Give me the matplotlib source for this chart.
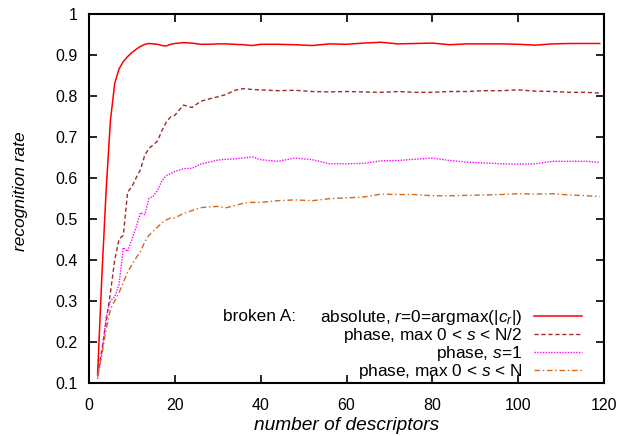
import numpy as np
import matplotlib
matplotlib.use('Agg')
import matplotlib.pyplot as plt
from matplotlib.ticker import FormatStrFormatter

plt.rcParams['font.family'] = ['Liberation Sans', 'DejaVu Sans']
plt.rcParams['font.size'] = 11.5
plt.rcParams['mathtext.fontset'] = 'custom'
plt.rcParams['mathtext.rm'] = 'Liberation Sans'
plt.rcParams['mathtext.it'] = 'Liberation Sans:italic'

# number of descriptors
n_desc = [2, 3, 4, 5, 6, 7, 8, 9, 10, 11, 12, 13, 14, 15, 16, 17, 18, 19, 20,
          22, 24, 26, 28, 30, 32, 34, 36, 38, 40,
          44, 48, 52, 56, 60, 64, 68, 72, 76, 80, 84, 88, 92, 96, 100, 104,
          108, 112, 116, 119]

# absolute, r=0=argmax(|c_r|)
absolute = [0.12, 0.36, 0.57, 0.74, 0.83, 0.865, 0.883, 0.895, 0.905, 0.913,
            0.92, 0.925, 0.927, 0.926, 0.925, 0.922, 0.921, 0.925, 0.927,
            0.929, 0.928, 0.925, 0.925, 0.926, 0.926, 0.925, 0.924, 0.922,
            0.925,
            0.925, 0.924, 0.922, 0.926, 0.925, 0.928, 0.930, 0.926, 0.927,
            0.928, 0.924, 0.926, 0.926, 0.926, 0.925, 0.923, 0.926, 0.927,
            0.927, 0.927]

# phase, max 0 < s < N/2
phase_half = [0.12, 0.18, 0.25, 0.32, 0.40, 0.45, 0.46, 0.565, 0.578, 0.60,
              0.62, 0.655, 0.672, 0.68, 0.69, 0.715, 0.735, 0.748, 0.752,
              0.777, 0.771, 0.786, 0.792, 0.797, 0.803, 0.813, 0.817, 0.815,
              0.814,
              0.812, 0.813, 0.810, 0.809, 0.810, 0.809, 0.808, 0.810, 0.808,
              0.808, 0.810, 0.810, 0.812, 0.812, 0.814, 0.811, 0.810, 0.808,
              0.808, 0.806]

# phase, s=1
phase_s1 = [0.11, 0.17, 0.26, 0.30, 0.31, 0.34, 0.43, 0.42, 0.45, 0.48,
            0.515, 0.51, 0.55, 0.555, 0.57, 0.593, 0.605, 0.61, 0.615,
            0.622, 0.623, 0.633, 0.638, 0.643, 0.645, 0.646, 0.648, 0.651,
            0.644,
            0.640, 0.648, 0.644, 0.634, 0.634, 0.635, 0.641, 0.642, 0.645,
            0.648, 0.642, 0.638, 0.636, 0.634, 0.633, 0.634, 0.640, 0.640,
            0.640, 0.637]

# phase, max 0 < s < N
phase_full = [0.115, 0.17, 0.23, 0.28, 0.30, 0.32, 0.345, 0.37, 0.388, 0.405,
              0.42, 0.444, 0.46, 0.47, 0.48, 0.49, 0.497, 0.502, 0.502,
              0.513, 0.52, 0.527, 0.529, 0.53, 0.527, 0.532, 0.538, 0.54,
              0.54,
              0.544, 0.546, 0.544, 0.549, 0.551, 0.553, 0.560, 0.559, 0.559,
              0.556, 0.556, 0.557, 0.558, 0.559, 0.561, 0.560, 0.561, 0.558,
              0.556, 0.554]

fig, ax = plt.subplots(figsize=(6.24, 4.36), dpi=100)
fig.subplots_adjust(left=0.1426, right=0.968, top=0.969, bottom=0.1216)

ax.plot(n_desc, absolute, color='#ff0000', lw=1.1,
        label=r'absolute, $\it{r}$=0=argmax(|$\it{c}_{\it{r}}$|)')
ax.plot(n_desc, phase_half, color='#a02a2a', lw=1.0, dashes=(3, 2),
        label=r'phase, max 0 < $\it{s}$ < N/2')
ax.plot(n_desc, phase_s1, color='#ff00ff', lw=1.0, dashes=(1, 1),
        label=r'phase, $\it{s}$=1')
ax.plot(n_desc, phase_full, color='#d2691e', lw=1.0, dashes=(4, 2, 1, 2),
        label=r'phase, max 0 < $\it{s}$ < N')

ax.set_xlim(0, 120)
ax.set_ylim(0.1, 1)
ax.set_xticks(np.arange(0, 121, 20))
ax.set_yticks(np.arange(0.1, 1.01, 0.1))
ax.yaxis.set_major_formatter(FormatStrFormatter('%g'))
ax.tick_params(direction='in', length=6, width=1.2, top=True, right=True,
               labelsize=11.5, pad=8)
ax.tick_params(axis='x', pad=11)
for s in ax.spines.values():
    s.set_linewidth(1.5)

ax.set_xlabel('number of descriptors', style='italic', fontsize=13.8)
ax.set_ylabel('recognition rate', style='italic', fontsize=12.5)
ax.xaxis.set_label_coords(0.5, -0.092)
ax.yaxis.set_label_coords(-0.118, 0.52)

leg = ax.legend(loc='lower right', bbox_to_anchor=(0.958, 0.005),
                frameon=False, markerfirst=False, handlelength=2.8,
                handletextpad=0.7, labelspacing=-0.05, borderpad=0,
                borderaxespad=0, fontsize=12.4)
ax.text(0.26, 0.181, 'broken A:', transform=ax.transAxes, fontsize=12.4,
        va='center', ha='left')

fig.savefig('out.png', dpi=100)
